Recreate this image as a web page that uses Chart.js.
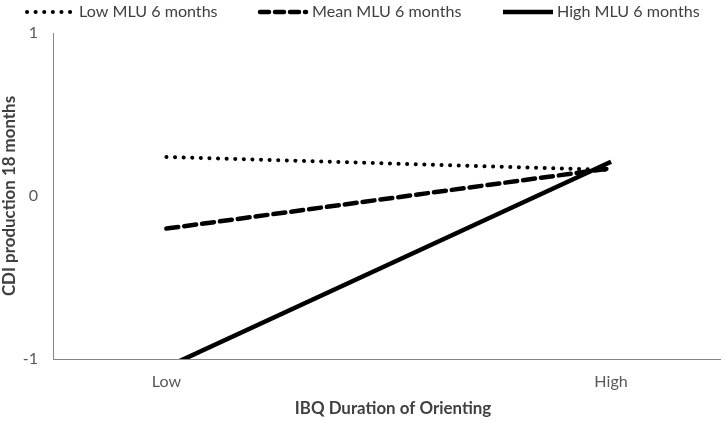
<!DOCTYPE html>
<html>
<head>
<meta charset="utf-8">
<script src="https://cdn.jsdelivr.net/npm/chart.js@4/dist/chart.umd.min.js"></script>
<style>
  html, body { margin: 0; padding: 0; background: #fff; }
  canvas { display: block; }
</style>
</head>
<body>
<canvas id="chart" width="725" height="421"></canvas>
<script>
// data
const categories = ['Low', 'High'];
const seriesNames = ['Low MLU 6 months', 'Mean MLU 6 months', 'High MLU 6 months'];
const lowMLU = [0.24, 0.16];
const meanMLU = [-0.2, 0.17];
const highMLU = [-1.05, 0.21];
const yTicks = [-1, 0, 1];
const xTitle = 'IBQ Duration of Orienting';
const yTitle = 'CDI production 18 months';

const family = 'Lato';
// pick a size that gives the same text width as the original (Calibri ~18px)
function fitSize(text, target, weight) {
  const c = document.createElement('canvas').getContext('2d');
  c.font = weight + ' 100px ' + family;
  return 100 * target / c.measureText(text).width;
}
const fs = Math.round(fitSize('Low MLU 6 months', 139, 'normal') * 10) / 10;
const fsBold = Math.round(fitSize(xTitle, 197, 'bold') * 10) / 10;

function points(vals) {
  return vals.map((v, i) => ({x: i, y: v}));
}

const styles = [
  {borderWidth: 4, borderDash: [0.1, 8.5], borderCapStyle: 'round'},
  {borderWidth: 4.5, borderDash: [12, 6], borderCapStyle: 'round'},
  {borderWidth: 4.5, borderDash: [], borderCapStyle: 'butt'}
];
const values = [lowMLU, meanMLU, highMLU];

const datasets = seriesNames.map((name, i) => Object.assign({
  label: name,
  data: points(values[i]),
  borderColor: '#000',
  backgroundColor: '#000',
  pointRadius: 0,
  tension: 0,
  fill: false
}, styles[i]));

// legend samples: [x start, x end, text x]
const legendPos = [[27, 72, 79], [260, 306, 312], [503, 553, 557]];

const extras = {
  id: 'extras',
  afterDraw(chart) {
    const ctx = chart.ctx;
    ctx.save();
    // legend
    chart.data.datasets.forEach((ds, i) => {
      const p = legendPos[i];
      ctx.save();
      ctx.strokeStyle = ds.borderColor;
      ctx.lineWidth = ds.borderWidth;
      ctx.lineCap = ds.borderCapStyle;
      ctx.setLineDash(i === 1 ? [9, 6] : ds.borderDash);
      ctx.beginPath();
      ctx.moveTo(p[0], 12);
      ctx.lineTo(p[1], 12);
      ctx.stroke();
      ctx.restore();
      ctx.fillStyle = '#404040';
      ctx.font = fs + 'px ' + family;
      ctx.textBaseline = 'middle';
      ctx.textAlign = 'left';
      ctx.fillText(ds.label, p[2], 12);
    });
    // axis titles
    ctx.fillStyle = '#404040';
    ctx.font = 'bold ' + fsBold + 'px ' + family;
    ctx.textAlign = 'center';
    ctx.textBaseline = 'middle';
    ctx.fillText(xTitle, 393, 409);
    ctx.translate(10, 196);
    ctx.rotate(-Math.PI / 2);
    ctx.fillText(yTitle, 0, 0);
    ctx.restore();
  }
};

new Chart(document.getElementById('chart'), {
  type: 'line',
  data: {datasets: datasets},
  options: {
    responsive: false,
    animation: false,
    devicePixelRatio: 1,
    layout: {padding: {top: 33, right: 5, left: 0, bottom: 0}},
    plugins: {legend: {display: false}, tooltip: {enabled: false}},
    scales: {
      x: {
        type: 'linear',
        min: -0.255,
        max: 1.245,
        afterBuildTicks: s => { s.ticks = categories.map((c, i) => ({value: i})); },
        afterFit: s => { s.height = 62; },
        ticks: {
          callback: v => categories[v],
          color: '#595959',
          font: {family: family, size: fs},
          padding: 13,
          maxRotation: 0
        },
        grid: {display: false, drawTicks: false},
        border: {display: true, color: '#868686', width: 1}
      },
      y: {
        min: -1,
        max: 1,
        afterBuildTicks: s => { s.ticks = yTicks.map(v => ({value: v})); },
        afterFit: s => { s.width = 53; },
        ticks: {
          callback: v => String(v),
          color: '#595959',
          font: {family: family, size: fs},
          padding: 15
        },
        grid: {display: false, drawTicks: false},
        border: {display: true, color: '#868686', width: 1}
      }
    }
  },
  plugins: [extras]
});
</script>
</body>
</html>
